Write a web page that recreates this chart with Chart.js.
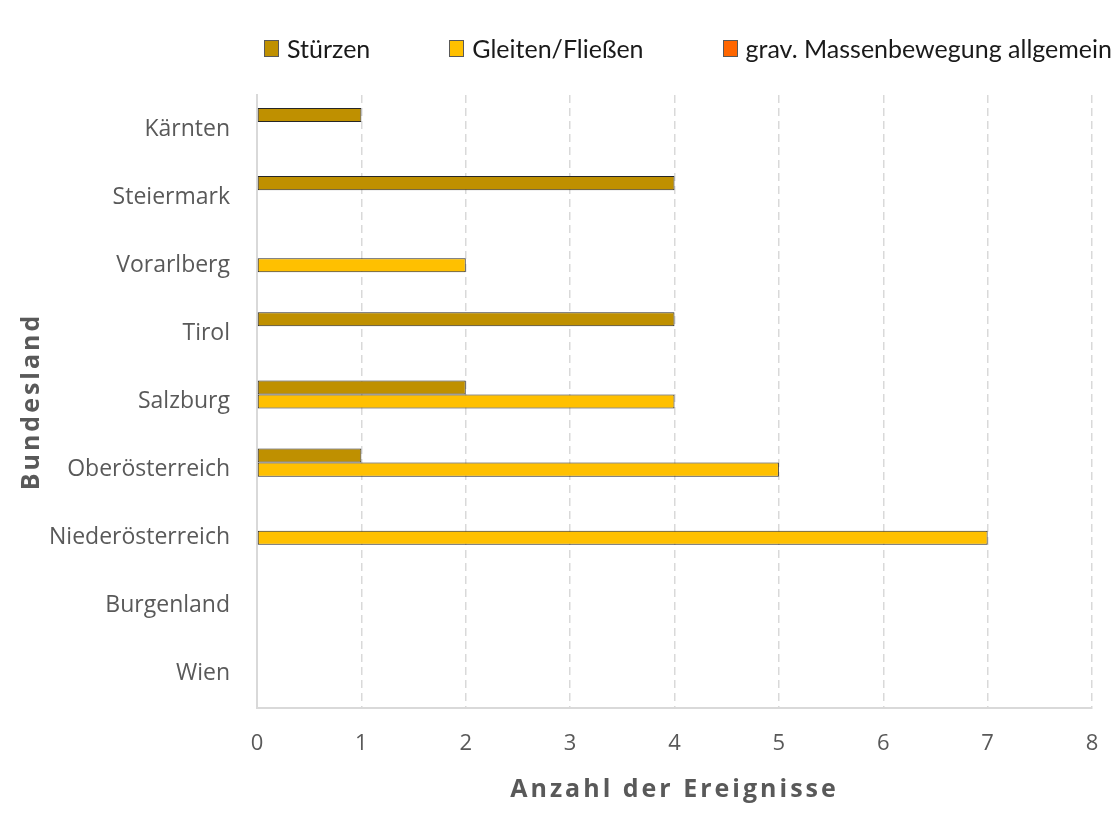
<!DOCTYPE html>
<html>
<head>
<meta charset="utf-8">
<script src="https://cdn.jsdelivr.net/npm/chart.js@4"></script>
<style>
  body { margin: 0; background: #fff; }
  #wrap { position: relative; width: 1118px; height: 827px; }
  #legend {
    position: absolute; top: 33px; right: 6px;
    display: flex; gap: 79px;
    font-family: Lato, sans-serif; font-size: 25px; color: #1a1a1a;
  }
  .item { display: flex; align-items: center; white-space: nowrap; }
  .box {
    flex-shrink: 0; width: 15px; height: 17px;
    border: 1px solid #595959; margin-right: 8px; box-sizing: border-box;
  }
</style>
</head>
<body>
<div id="wrap">
  <div id="legend"></div>
  <canvas id="chart" width="1118" height="827"></canvas>
</div>
<script>
// Bundesländer, top to bottom
const labels = ['Kärnten', 'Steiermark', 'Vorarlberg', 'Tirol', 'Salzburg', 'Oberösterreich', 'Niederösterreich', 'Burgenland', 'Wien']
const stuerzen = [1, 4, 0, 4, 2, 1, 0, 0, 0]
const gleiten = [0, 0, 2, 0, 4, 5, 7, 0, 0]
const allgemein = [0, 0, 0, 0, 0, 0, 0, 0, 0]
const seriesNames = ['Stürzen', 'Gleiten/Fließen', 'grav. Massenbewegung allgemein']
const colors = ['#BF9000', '#FFC000', '#FF6600']

const grey = '#595959'

// axis titles are letter-spaced in the original
const spacedTitles = {
  id: 'spacedTitles',
  beforeDraw (chart) {
    Object.values(chart.scales).forEach(scale => {
      if (scale._spaced) return
      const orig = scale.drawTitle.bind(scale)
      scale.drawTitle = function () {
        this.ctx.save()
        this.ctx.letterSpacing = '3px'
        orig()
        this.ctx.restore()
      }
      scale._spaced = true
    })
  }
}

function renderChart () {
  const datasets = [stuerzen, gleiten, allgemein].map((data, i) => ({
    label: seriesNames[i],
    data,
    backgroundColor: colors[i],
    borderColor: '#262626',
    borderWidth: 1,
    borderSkipped: false,
    categoryPercentage: 0.62,
    barPercentage: 1
  }))

  const ctx = document.querySelector('#chart').getContext('2d')
  const myChart = new Chart(ctx, {
    type: 'bar',
    data: { labels, datasets },
    plugins: [spacedTitles],
    options: {
      indexAxis: 'y',
      responsive: false,
      animation: false,
      layout: { padding: { top: 95, left: 10, right: 26, bottom: 0 } },
      plugins: {
        legend: { display: false },
        tooltip: { enabled: false }
      },
      scales: {
        x: {
          min: 0,
          max: 8,
          afterFit (scale) {
            scale.height = 119
            scale.paddingRight = 0
          },
          ticks: {
            stepSize: 1,
            padding: 23,
            color: grey,
            font: { family: 'Open Sans', size: 22 }
          },
          grid: { color: '#D9D9D9', lineWidth: 1.5, drawTicks: false },
          border: { display: true, color: '#D9D9D9', width: 2, dash: [8, 5] },
          title: {
            display: true,
            text: 'Anzahl der Ereignisse',
            color: grey,
            font: { family: 'Open Sans', size: 25, weight: 'bold' },
            padding: { top: 0, bottom: 22 }
          }
        },
        y: {
          afterFit (scale) { scale.width = 247 },
          ticks: {
            padding: 27,
            color: grey,
            font: { family: 'Open Sans', size: 23 }
          },
          grid: { display: false, drawTicks: false },
          border: { display: true, color: '#D9D9D9', width: 2 },
          title: {
            display: true,
            text: 'Bundesland',
            color: grey,
            font: { family: 'Open Sans', size: 25, weight: 'bold' },
            padding: { top: 7, bottom: 0 }
          }
        }
      }
    }
  })

  // html legend, built from the datasets
  const legend = document.querySelector('#legend')
  myChart.data.datasets.forEach(ds => {
    const item = document.createElement('div')
    item.className = 'item'
    item.innerHTML = `<span class="box" style="background:${ds.backgroundColor}"></span>${ds.label}`
    legend.appendChild(item)
  })
}

Promise.all([
  document.fonts.load('23px "Open Sans"'),
  document.fonts.load('bold 25px "Open Sans"'),
  document.fonts.load('25px Lato')
]).then(renderChart, renderChart)
</script>
</body>
</html>
